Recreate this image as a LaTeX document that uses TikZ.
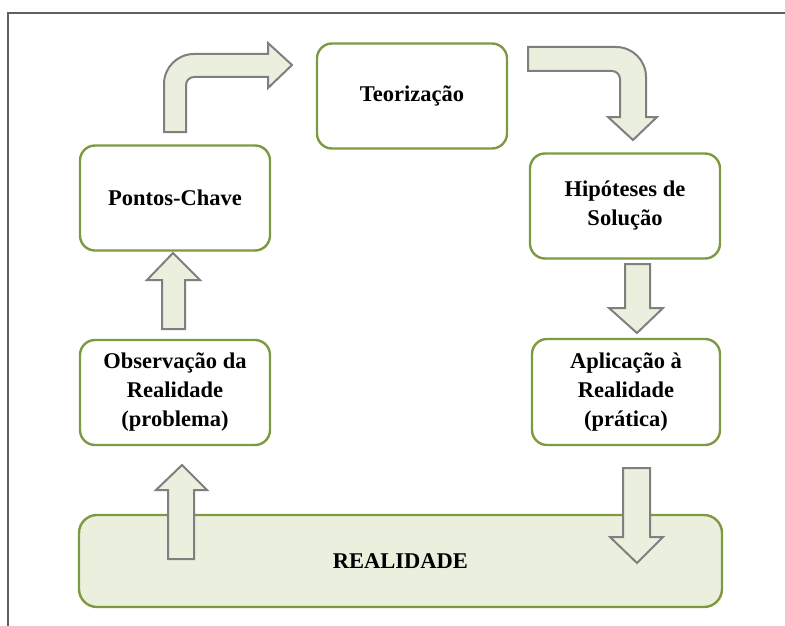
\documentclass[tikz,border=0pt]{standalone}
\usepackage{fontspec}
\setmainfont{Liberation Serif}
\definecolor{boxgreen}{HTML}{7D9A43}
\definecolor{lightfill}{HTML}{EBF0DE}
\definecolor{arrowgray}{HTML}{7F7F7F}
\definecolor{framegray}{HTML}{606060}
\begin{document}
\begin{tikzpicture}[x=1pt,y=-1pt,
  stagebox/.style={draw=boxgreen, line width=2.4pt, fill=white, rounded corners=15pt,
    minimum width=190pt, minimum height=105pt, align=center, inner sep=4pt,
    font=\fontsize{22.5}{29}\selectfont\bfseries},
  blockarrow/.style={draw=arrowgray, line width=2pt, fill=lightfill, line join=miter}]
\useasboundingbox (0,0) rectangle (785,626);
\fill[white] (0,0) rectangle (785,626);
\draw[framegray, line width=1.5pt] (8,626) -- (8,13) -- (785,13);

% boxes
\node[stagebox, fill=lightfill, minimum width=643pt, minimum height=92pt, rounded corners=18pt] (real) at (400.5,561) {REALIDADE};
\node[stagebox] (teo) at (412,96) {Teorização};
\node[stagebox] (pon) at (175,198) {Pontos-Chave};
\node[stagebox] (hip) at (625,206) {Hipóteses de\\Solução};
\node[stagebox] (obs) at (175,392.5) {Observação da\\Realidade\\(problema)};
\node[stagebox, minimum width=188pt, minimum height=106pt] (apl) at (626,392) {Aplicação à\\Realidade\\(prática)};

% up arrow: REALIDADE -> Observacao
\draw[blockarrow] (168,559) -- (168,490) -- (156,490) -- (182,465) -- (207,490) -- (194,490) -- (194,559) -- cycle;
% up arrow: Observacao -> Pontos-Chave
\draw[blockarrow] (162,329) -- (162,280) -- (147,280) -- (173,253) -- (200,280) -- (185,280) -- (185,329) -- cycle;
% bent arrow: Pontos-Chave -> Teorizacao
\draw[blockarrow] (164,132) -- (164,84) .. controls (164,67.4) and (177.4,54) .. (194,54)
  -- (268,54) -- (268,43) -- (292,65) -- (268,88) -- (268,77) -- (194,77)
  .. controls (189.6,77) and (186,80.6) .. (186,85) -- (186,132) -- cycle;
% bent arrow: Teorizacao -> Hipoteses
\draw[blockarrow] (528,47) -- (616,47) .. controls (632.6,47) and (646,60.4) .. (646,77)
  -- (646,117) -- (657,117) -- (633,140) -- (608,117) -- (620,117) -- (620,79)
  .. controls (620,74.6) and (616.4,71) .. (612,71) -- (528,71) -- cycle;
% down arrow: Hipoteses -> Aplicacao
\draw[blockarrow] (625,264) -- (650,264) -- (650,308) -- (663,308) -- (637,333) -- (609,308) -- (625,308) -- cycle;
% down arrow: Aplicacao -> REALIDADE
\draw[blockarrow] (623,468) -- (650,468) -- (650,537) -- (663,537) -- (637,563) -- (610,537) -- (623,537) -- cycle;
\end{tikzpicture}
\end{document}
